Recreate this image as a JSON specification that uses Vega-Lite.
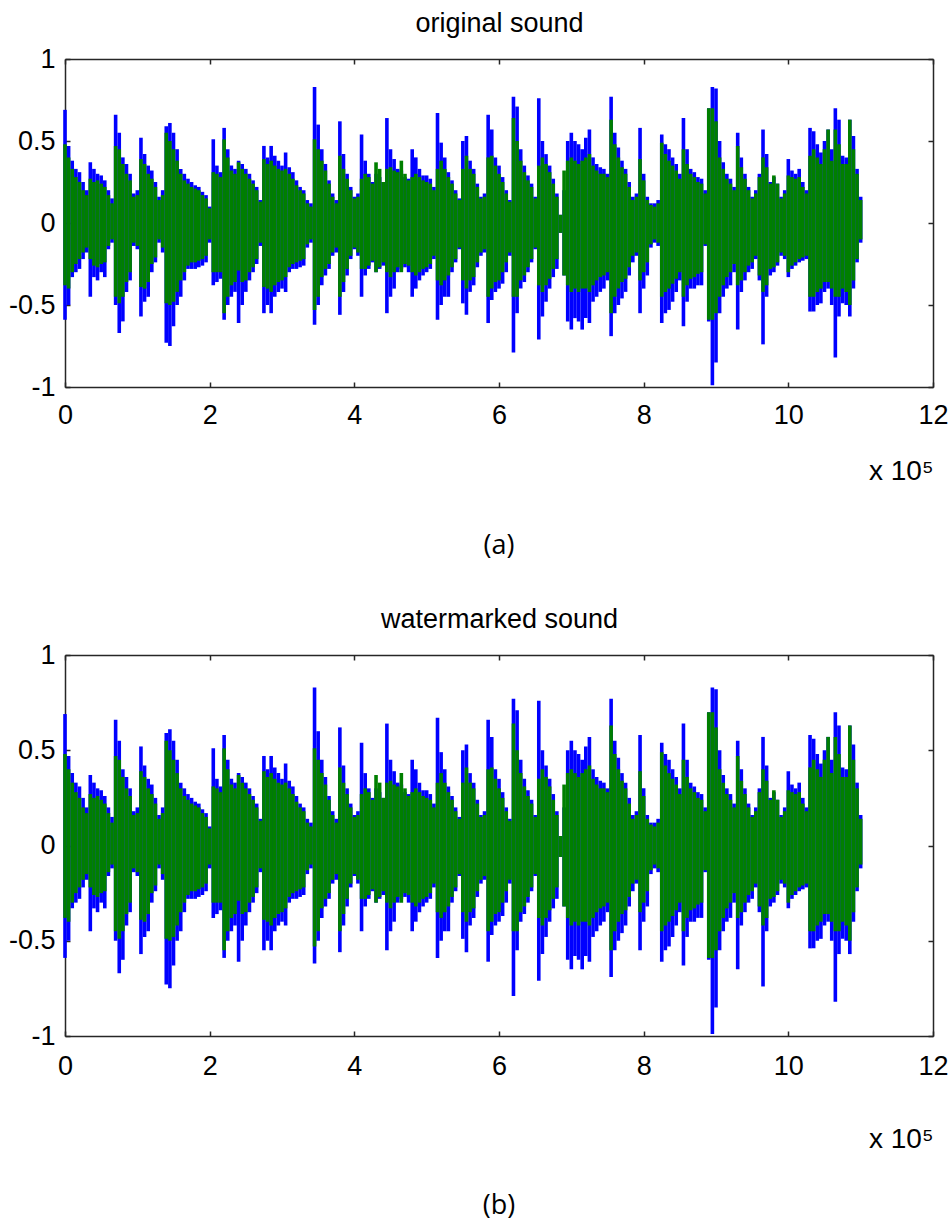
{
"$schema": "https://vega.github.io/schema/vega-lite/v6.json",
"background": "white",
"padding": {"left": 8, "top": 9, "right": 0, "bottom": 8},
"spacing": 46,
"config": {
  "view": {"stroke": null},
  "axis": {"grid": false, "domainColor": "#262626", "domainWidth": 1.5, "tickColor": "#262626", "tickWidth": 1.5, "labelFont": "Liberation Sans", "labelFontSize": 27, "labelColor": "black", "titleFont": "Liberation Sans", "titleFontWeight": "normal", "titleColor": "black", "labelFlush": false, "labelOverlap": false},
  "title": {"font": "Open Sans", "fontSize": 27, "fontWeight": "normal", "color": "black"}
},
"datasets": {"w": [
{"x":0.00,"bh":0.69,"bl":-0.59,"gh":0.48,"gl":-0.38},
{"x":0.05,"bh":0.47,"bl":-0.50,"gh":0.40,"gl":-0.40},
{"x":0.10,"bh":0.38,"bl":-0.33,"gh":0.33,"gl":-0.30},
{"x":0.15,"bh":0.33,"bl":-0.30,"gh":0.28,"gl":-0.25},
{"x":0.20,"bh":0.31,"bl":-0.28,"gh":0.25,"gl":-0.22},
{"x":0.25,"bh":0.25,"bl":-0.22,"gh":0.20,"gl":-0.18},
{"x":0.30,"bh":0.20,"bl":-0.18,"gh":0.17,"gl":-0.15},
{"x":0.35,"bh":0.37,"bl":-0.45,"gh":0.27,"gl":-0.22},
{"x":0.40,"bh":0.33,"bl":-0.33,"gh":0.25,"gl":-0.26},
{"x":0.45,"bh":0.30,"bl":-0.35,"gh":0.26,"gl":-0.27},
{"x":0.50,"bh":0.29,"bl":-0.30,"gh":0.24,"gl":-0.25},
{"x":0.55,"bh":0.26,"bl":-0.33,"gh":0.22,"gl":-0.24},
{"x":0.60,"bh":0.20,"bl":-0.16,"gh":0.17,"gl":-0.14},
{"x":0.65,"bh":0.15,"bl":-0.12,"gh":0.12,"gl":-0.10},
{"x":0.70,"bh":0.66,"bl":-0.50,"gh":0.47,"gl":-0.45},
{"x":0.75,"bh":0.55,"bl":-0.67,"gh":0.45,"gl":-0.49},
{"x":0.80,"bh":0.40,"bl":-0.60,"gh":0.36,"gl":-0.45},
{"x":0.85,"bh":0.36,"bl":-0.42,"gh":0.30,"gl":-0.36},
{"x":0.90,"bh":0.30,"bl":-0.35,"gh":0.26,"gl":-0.30},
{"x":0.95,"bh":0.18,"bl":-0.14,"gh":0.16,"gl":-0.12},
{"x":1.00,"bh":0.20,"bl":-0.16,"gh":0.17,"gl":-0.14},
{"x":1.05,"bh":0.52,"bl":-0.57,"gh":0.39,"gl":-0.39},
{"x":1.10,"bh":0.42,"bl":-0.48,"gh":0.36,"gl":-0.40},
{"x":1.15,"bh":0.35,"bl":-0.45,"gh":0.30,"gl":-0.36},
{"x":1.20,"bh":0.32,"bl":-0.30,"gh":0.27,"gl":-0.25},
{"x":1.25,"bh":0.25,"bl":-0.24,"gh":0.22,"gl":-0.21},
{"x":1.30,"bh":0.16,"bl":-0.12,"gh":0.14,"gl":-0.10},
{"x":1.35,"bh":0.20,"bl":-0.18,"gh":0.17,"gl":-0.15},
{"x":1.40,"bh":0.59,"bl":-0.73,"gh":0.55,"gl":-0.49},
{"x":1.45,"bh":0.61,"bl":-0.75,"gh":0.50,"gl":-0.50},
{"x":1.50,"bh":0.55,"bl":-0.63,"gh":0.45,"gl":-0.48},
{"x":1.55,"bh":0.45,"bl":-0.50,"gh":0.38,"gl":-0.42},
{"x":1.60,"bh":0.33,"bl":-0.45,"gh":0.30,"gl":-0.35},
{"x":1.65,"bh":0.30,"bl":-0.35,"gh":0.26,"gl":-0.30},
{"x":1.70,"bh":0.27,"bl":-0.28,"gh":0.24,"gl":-0.26},
{"x":1.75,"bh":0.25,"bl":-0.28,"gh":0.22,"gl":-0.24},
{"x":1.80,"bh":0.23,"bl":-0.28,"gh":0.21,"gl":-0.24},
{"x":1.85,"bh":0.22,"bl":-0.27,"gh":0.20,"gl":-0.23},
{"x":1.90,"bh":0.19,"bl":-0.26,"gh":0.17,"gl":-0.22},
{"x":1.95,"bh":0.17,"bl":-0.24,"gh":0.15,"gl":-0.20},
{"x":2.00,"bh":0.10,"bl":-0.12,"gh":0.09,"gl":-0.10},
{"x":2.05,"bh":0.51,"bl":-0.38,"gh":0.31,"gl":-0.30},
{"x":2.10,"bh":0.35,"bl":-0.36,"gh":0.30,"gl":-0.30},
{"x":2.15,"bh":0.31,"bl":-0.34,"gh":0.28,"gl":-0.30},
{"x":2.20,"bh":0.58,"bl":-0.59,"gh":0.51,"gl":-0.55},
{"x":2.25,"bh":0.45,"bl":-0.50,"gh":0.40,"gl":-0.45},
{"x":2.30,"bh":0.35,"bl":-0.45,"gh":0.32,"gl":-0.38},
{"x":2.35,"bh":0.33,"bl":-0.42,"gh":0.30,"gl":-0.36},
{"x":2.40,"bh":0.38,"bl":-0.61,"gh":0.37,"gl":-0.29},
{"x":2.45,"bh":0.36,"bl":-0.50,"gh":0.33,"gl":-0.36},
{"x":2.50,"bh":0.33,"bl":-0.42,"gh":0.30,"gl":-0.35},
{"x":2.55,"bh":0.30,"bl":-0.35,"gh":0.27,"gl":-0.30},
{"x":2.60,"bh":0.26,"bl":-0.30,"gh":0.24,"gl":-0.27},
{"x":2.65,"bh":0.22,"bl":-0.25,"gh":0.20,"gl":-0.22},
{"x":2.70,"bh":0.14,"bl":-0.14,"gh":0.13,"gl":-0.12},
{"x":2.75,"bh":0.47,"bl":-0.55,"gh":0.39,"gl":-0.39},
{"x":2.80,"bh":0.40,"bl":-0.50,"gh":0.36,"gl":-0.40},
{"x":2.85,"bh":0.47,"bl":-0.55,"gh":0.38,"gl":-0.42},
{"x":2.90,"bh":0.41,"bl":-0.45,"gh":0.35,"gl":-0.38},
{"x":2.95,"bh":0.38,"bl":-0.42,"gh":0.33,"gl":-0.36},
{"x":3.00,"bh":0.35,"bl":-0.40,"gh":0.32,"gl":-0.35},
{"x":3.05,"bh":0.43,"bl":-0.42,"gh":0.33,"gl":-0.33},
{"x":3.10,"bh":0.34,"bl":-0.30,"gh":0.30,"gl":-0.27},
{"x":3.15,"bh":0.31,"bl":-0.28,"gh":0.27,"gl":-0.25},
{"x":3.20,"bh":0.26,"bl":-0.28,"gh":0.23,"gl":-0.24},
{"x":3.25,"bh":0.22,"bl":-0.27,"gh":0.20,"gl":-0.23},
{"x":3.30,"bh":0.20,"bl":-0.26,"gh":0.18,"gl":-0.22},
{"x":3.35,"bh":0.14,"bl":-0.15,"gh":0.12,"gl":-0.13},
{"x":3.40,"bh":0.12,"bl":-0.12,"gh":0.10,"gl":-0.10},
{"x":3.45,"bh":0.83,"bl":-0.62,"gh":0.51,"gl":-0.53},
{"x":3.50,"bh":0.60,"bl":-0.50,"gh":0.45,"gl":-0.45},
{"x":3.55,"bh":0.45,"bl":-0.38,"gh":0.38,"gl":-0.33},
{"x":3.60,"bh":0.36,"bl":-0.32,"gh":0.32,"gl":-0.28},
{"x":3.65,"bh":0.26,"bl":-0.28,"gh":0.24,"gl":-0.25},
{"x":3.70,"bh":0.18,"bl":-0.20,"gh":0.16,"gl":-0.18},
{"x":3.75,"bh":0.14,"bl":-0.18,"gh":0.12,"gl":-0.15},
{"x":3.80,"bh":0.62,"bl":-0.56,"gh":0.41,"gl":-0.45},
{"x":3.85,"bh":0.42,"bl":-0.42,"gh":0.33,"gl":-0.36},
{"x":3.90,"bh":0.30,"bl":-0.32,"gh":0.27,"gl":-0.28},
{"x":3.95,"bh":0.22,"bl":-0.22,"gh":0.20,"gl":-0.20},
{"x":4.00,"bh":0.16,"bl":-0.16,"gh":0.15,"gl":-0.15},
{"x":4.05,"bh":0.18,"bl":-0.20,"gh":0.16,"gl":-0.18},
{"x":4.10,"bh":0.54,"bl":-0.45,"gh":0.27,"gl":-0.28},
{"x":4.15,"bh":0.38,"bl":-0.32,"gh":0.30,"gl":-0.28},
{"x":4.20,"bh":0.30,"bl":-0.28,"gh":0.28,"gl":-0.26},
{"x":4.25,"bh":0.25,"bl":-0.24,"gh":0.24,"gl":-0.23},
{"x":4.30,"bh":0.30,"bl":-0.30,"gh":0.37,"gl":-0.30},
{"x":4.35,"bh":0.28,"bl":-0.28,"gh":0.33,"gl":-0.27},
{"x":4.40,"bh":0.25,"bl":-0.26,"gh":0.25,"gl":-0.24},
{"x":4.45,"bh":0.64,"bl":-0.55,"gh":0.33,"gl":-0.30},
{"x":4.50,"bh":0.45,"bl":-0.45,"gh":0.34,"gl":-0.33},
{"x":4.55,"bh":0.39,"bl":-0.40,"gh":0.32,"gl":-0.30},
{"x":4.60,"bh":0.33,"bl":-0.30,"gh":0.31,"gl":-0.27},
{"x":4.65,"bh":0.32,"bl":-0.28,"gh":0.38,"gl":-0.30},
{"x":4.70,"bh":0.28,"bl":-0.27,"gh":0.30,"gl":-0.25},
{"x":4.75,"bh":0.27,"bl":-0.30,"gh":0.26,"gl":-0.26},
{"x":4.80,"bh":0.45,"bl":-0.45,"gh":0.28,"gl":-0.30},
{"x":4.85,"bh":0.40,"bl":-0.40,"gh":0.30,"gl":-0.32},
{"x":4.90,"bh":0.33,"bl":-0.35,"gh":0.28,"gl":-0.30},
{"x":4.95,"bh":0.29,"bl":-0.32,"gh":0.26,"gl":-0.28},
{"x":5.00,"bh":0.29,"bl":-0.30,"gh":0.25,"gl":-0.27},
{"x":5.05,"bh":0.27,"bl":-0.28,"gh":0.24,"gl":-0.25},
{"x":5.10,"bh":0.22,"bl":-0.22,"gh":0.20,"gl":-0.20},
{"x":5.15,"bh":0.67,"bl":-0.59,"gh":0.33,"gl":-0.35},
{"x":5.20,"bh":0.49,"bl":-0.50,"gh":0.38,"gl":-0.38},
{"x":5.25,"bh":0.40,"bl":-0.45,"gh":0.33,"gl":-0.35},
{"x":5.30,"bh":0.31,"bl":-0.45,"gh":0.28,"gl":-0.32},
{"x":5.35,"bh":0.26,"bl":-0.30,"gh":0.24,"gl":-0.27},
{"x":5.40,"bh":0.20,"bl":-0.24,"gh":0.18,"gl":-0.22},
{"x":5.45,"bh":0.15,"bl":-0.16,"gh":0.14,"gl":-0.15},
{"x":5.50,"bh":0.50,"bl":-0.49,"gh":0.33,"gl":-0.35},
{"x":5.55,"bh":0.53,"bl":-0.56,"gh":0.41,"gl":-0.40},
{"x":5.60,"bh":0.38,"bl":-0.42,"gh":0.33,"gl":-0.35},
{"x":5.65,"bh":0.33,"bl":-0.38,"gh":0.30,"gl":-0.33},
{"x":5.70,"bh":0.24,"bl":-0.27,"gh":0.22,"gl":-0.24},
{"x":5.75,"bh":0.16,"bl":-0.20,"gh":0.15,"gl":-0.18},
{"x":5.80,"bh":0.18,"bl":-0.18,"gh":0.16,"gl":-0.16},
{"x":5.85,"bh":0.66,"bl":-0.61,"gh":0.40,"gl":-0.45},
{"x":5.90,"bh":0.57,"bl":-0.47,"gh":0.41,"gl":-0.40},
{"x":5.95,"bh":0.40,"bl":-0.42,"gh":0.35,"gl":-0.36},
{"x":6.00,"bh":0.35,"bl":-0.40,"gh":0.30,"gl":-0.35},
{"x":6.05,"bh":0.28,"bl":-0.37,"gh":0.25,"gl":-0.30},
{"x":6.10,"bh":0.20,"bl":-0.30,"gh":0.18,"gl":-0.24},
{"x":6.15,"bh":0.14,"bl":-0.20,"gh":0.13,"gl":-0.18},
{"x":6.20,"bh":0.77,"bl":-0.79,"gh":0.64,"gl":-0.45},
{"x":6.25,"bh":0.71,"bl":-0.55,"gh":0.50,"gl":-0.45},
{"x":6.30,"bh":0.45,"bl":-0.40,"gh":0.38,"gl":-0.35},
{"x":6.35,"bh":0.35,"bl":-0.36,"gh":0.31,"gl":-0.32},
{"x":6.40,"bh":0.29,"bl":-0.30,"gh":0.26,"gl":-0.27},
{"x":6.45,"bh":0.24,"bl":-0.24,"gh":0.22,"gl":-0.22},
{"x":6.50,"bh":0.16,"bl":-0.16,"gh":0.15,"gl":-0.15},
{"x":6.55,"bh":0.76,"bl":-0.71,"gh":0.35,"gl":-0.38},
{"x":6.60,"bh":0.50,"bl":-0.57,"gh":0.40,"gl":-0.42},
{"x":6.65,"bh":0.42,"bl":-0.48,"gh":0.36,"gl":-0.38},
{"x":6.70,"bh":0.35,"bl":-0.40,"gh":0.31,"gl":-0.34},
{"x":6.75,"bh":0.27,"bl":-0.33,"gh":0.24,"gl":-0.28},
{"x":6.80,"bh":0.18,"bl":-0.28,"gh":0.16,"gl":-0.22},
{"x":6.85,"bh":0.05,"bl":-0.06,"gh":0.05,"gl":-0.06},
{"x":6.90,"bh":0.20,"bl":-0.32,"gh":0.32,"gl":-0.32},
{"x":6.95,"bh":0.50,"bl":-0.60,"gh":0.38,"gl":-0.38},
{"x":7.00,"bh":0.55,"bl":-0.65,"gh":0.40,"gl":-0.42},
{"x":7.05,"bh":0.50,"bl":-0.58,"gh":0.38,"gl":-0.40},
{"x":7.10,"bh":0.48,"bl":-0.60,"gh":0.36,"gl":-0.42},
{"x":7.15,"bh":0.45,"bl":-0.65,"gh":0.38,"gl":-0.40},
{"x":7.20,"bh":0.52,"bl":-0.58,"gh":0.40,"gl":-0.40},
{"x":7.25,"bh":0.57,"bl":-0.61,"gh":0.42,"gl":-0.42},
{"x":7.30,"bh":0.40,"bl":-0.48,"gh":0.35,"gl":-0.38},
{"x":7.35,"bh":0.36,"bl":-0.45,"gh":0.32,"gl":-0.35},
{"x":7.40,"bh":0.34,"bl":-0.42,"gh":0.30,"gl":-0.33},
{"x":7.45,"bh":0.33,"bl":-0.40,"gh":0.30,"gl":-0.32},
{"x":7.50,"bh":0.30,"bl":-0.35,"gh":0.28,"gl":-0.30},
{"x":7.55,"bh":0.77,"bl":-0.69,"gh":0.63,"gl":-0.55},
{"x":7.60,"bh":0.55,"bl":-0.55,"gh":0.48,"gl":-0.45},
{"x":7.65,"bh":0.46,"bl":-0.50,"gh":0.40,"gl":-0.40},
{"x":7.70,"bh":0.38,"bl":-0.46,"gh":0.34,"gl":-0.36},
{"x":7.75,"bh":0.33,"bl":-0.42,"gh":0.30,"gl":-0.34},
{"x":7.80,"bh":0.25,"bl":-0.32,"gh":0.22,"gl":-0.27},
{"x":7.85,"bh":0.16,"bl":-0.24,"gh":0.14,"gl":-0.20},
{"x":7.90,"bh":0.18,"bl":-0.20,"gh":0.16,"gl":-0.18},
{"x":7.95,"bh":0.58,"bl":-0.55,"gh":0.39,"gl":-0.35},
{"x":8.00,"bh":0.30,"bl":-0.40,"gh":0.26,"gl":-0.30},
{"x":8.05,"bh":0.16,"bl":-0.32,"gh":0.14,"gl":-0.24},
{"x":8.10,"bh":0.12,"bl":-0.15,"gh":0.11,"gl":-0.13},
{"x":8.15,"bh":0.12,"bl":-0.12,"gh":0.10,"gl":-0.10},
{"x":8.20,"bh":0.14,"bl":-0.14,"gh":0.12,"gl":-0.12},
{"x":8.25,"bh":0.54,"bl":-0.61,"gh":0.49,"gl":-0.45},
{"x":8.30,"bh":0.48,"bl":-0.55,"gh":0.42,"gl":-0.42},
{"x":8.35,"bh":0.45,"bl":-0.53,"gh":0.38,"gl":-0.40},
{"x":8.40,"bh":0.40,"bl":-0.48,"gh":0.35,"gl":-0.37},
{"x":8.45,"bh":0.36,"bl":-0.42,"gh":0.32,"gl":-0.34},
{"x":8.50,"bh":0.30,"bl":-0.35,"gh":0.27,"gl":-0.30},
{"x":8.55,"bh":0.64,"bl":-0.63,"gh":0.45,"gl":-0.45},
{"x":8.60,"bh":0.45,"bl":-0.48,"gh":0.36,"gl":-0.38},
{"x":8.65,"bh":0.33,"bl":-0.40,"gh":0.30,"gl":-0.34},
{"x":8.70,"bh":0.31,"bl":-0.40,"gh":0.28,"gl":-0.33},
{"x":8.75,"bh":0.28,"bl":-0.38,"gh":0.25,"gl":-0.31},
{"x":8.80,"bh":0.27,"bl":-0.38,"gh":0.24,"gl":-0.30},
{"x":8.85,"bh":0.20,"bl":-0.14,"gh":0.18,"gl":-0.13},
{"x":8.90,"bh":0.70,"bl":-0.60,"gh":0.70,"gl":-0.59},
{"x":8.95,"bh":0.83,"bl":-0.99,"gh":0.70,"gl":-0.59},
{"x":9.00,"bh":0.82,"bl":-0.85,"gh":0.62,"gl":-0.55},
{"x":9.05,"bh":0.50,"bl":-0.55,"gh":0.40,"gl":-0.45},
{"x":9.10,"bh":0.37,"bl":-0.45,"gh":0.33,"gl":-0.38},
{"x":9.15,"bh":0.30,"bl":-0.40,"gh":0.27,"gl":-0.33},
{"x":9.20,"bh":0.27,"bl":-0.38,"gh":0.24,"gl":-0.30},
{"x":9.25,"bh":0.22,"bl":-0.30,"gh":0.20,"gl":-0.25},
{"x":9.30,"bh":0.55,"bl":-0.65,"gh":0.47,"gl":-0.38},
{"x":9.35,"bh":0.40,"bl":-0.42,"gh":0.34,"gl":-0.35},
{"x":9.40,"bh":0.30,"bl":-0.35,"gh":0.27,"gl":-0.30},
{"x":9.45,"bh":0.22,"bl":-0.30,"gh":0.20,"gl":-0.26},
{"x":9.50,"bh":0.16,"bl":-0.28,"gh":0.15,"gl":-0.24},
{"x":9.55,"bh":0.20,"bl":-0.22,"gh":0.18,"gl":-0.20},
{"x":9.60,"bh":0.30,"bl":-0.35,"gh":0.28,"gl":-0.32},
{"x":9.65,"bh":0.57,"bl":-0.74,"gh":0.40,"gl":-0.42},
{"x":9.70,"bh":0.42,"bl":-0.45,"gh":0.34,"gl":-0.38},
{"x":9.75,"bh":0.25,"bl":-0.32,"gh":0.24,"gl":-0.28},
{"x":9.80,"bh":0.28,"bl":-0.30,"gh":0.29,"gl":-0.27},
{"x":9.85,"bh":0.24,"bl":-0.26,"gh":0.24,"gl":-0.24},
{"x":9.90,"bh":0.16,"bl":-0.20,"gh":0.15,"gl":-0.18},
{"x":9.95,"bh":0.20,"bl":-0.22,"gh":0.18,"gl":-0.20},
{"x":10.00,"bh":0.39,"bl":-0.33,"gh":0.29,"gl":-0.30},
{"x":10.05,"bh":0.32,"bl":-0.28,"gh":0.28,"gl":-0.26},
{"x":10.10,"bh":0.30,"bl":-0.26,"gh":0.27,"gl":-0.24},
{"x":10.15,"bh":0.33,"bl":-0.24,"gh":0.28,"gl":-0.22},
{"x":10.20,"bh":0.25,"bl":-0.23,"gh":0.22,"gl":-0.21},
{"x":10.25,"bh":0.20,"bl":-0.22,"gh":0.18,"gl":-0.20},
{"x":10.30,"bh":0.58,"bl":-0.54,"gh":0.41,"gl":-0.45},
{"x":10.35,"bh":0.56,"bl":-0.54,"gh":0.45,"gl":-0.45},
{"x":10.40,"bh":0.48,"bl":-0.50,"gh":0.40,"gl":-0.42},
{"x":10.45,"bh":0.43,"bl":-0.49,"gh":0.36,"gl":-0.40},
{"x":10.50,"bh":0.50,"bl":-0.42,"gh":0.45,"gl":-0.36},
{"x":10.55,"bh":0.57,"bl":-0.40,"gh":0.57,"gl":-0.36},
{"x":10.60,"bh":0.45,"bl":-0.50,"gh":0.38,"gl":-0.40},
{"x":10.65,"bh":0.70,"bl":-0.82,"gh":0.57,"gl":-0.45},
{"x":10.70,"bh":0.63,"bl":-0.57,"gh":0.48,"gl":-0.45},
{"x":10.75,"bh":0.41,"bl":-0.49,"gh":0.36,"gl":-0.40},
{"x":10.80,"bh":0.40,"bl":-0.50,"gh":0.36,"gl":-0.42},
{"x":10.85,"bh":0.63,"bl":-0.57,"gh":0.63,"gl":-0.50},
{"x":10.90,"bh":0.53,"bl":-0.40,"gh":0.45,"gl":-0.35},
{"x":10.95,"bh":0.33,"bl":-0.24,"gh":0.30,"gl":-0.22},
{"x":11.00,"bh":0.16,"bl":-0.12,"gh":0.14,"gl":-0.10}
]},
"vconcat": [
{
  "width": 868, "height": 328,
  "title": {"text": "(a)", "orient": "bottom", "offset": 48, "anchor": "middle"},
  "data": {"name": "w"},
  "layer": [
    {"mark": {"type": "rule", "strokeWidth": 3.6, "color": "#0000ff"},
     "encoding": {
       "x": {"field": "x", "type": "quantitative", "scale": {"domain": [0, 12], "nice": false, "zero": false},
             "axis": {"orient": "bottom", "values": [0, 2, 4, 6, 8, 10, 12], "tickSize": -5, "labelPadding": 20, "title": "x 10⁵", "titleAnchor": "end", "titleAlign": "right", "titleFontSize": 28, "titlePadding": 29}},
       "y": {"field": "bh", "type": "quantitative", "scale": {"domain": [-1, 1], "nice": false, "zero": false},
             "axis": {"orient": "left", "values": [-1, -0.5, 0, 0.5, 1], "tickSize": -5, "labelPadding": 15, "title": null, "labelExpr": "'' + datum.value"}},
       "y2": {"field": "bl"}
     }},
    {"mark": {"type": "rule", "strokeWidth": 3.6, "color": "#007f00"},
     "encoding": {
       "x": {"field": "x", "type": "quantitative", "scale": {"domain": [0, 12], "nice": false, "zero": false},
             "axis": {"orient": "top", "values": [0, 2, 4, 6, 8, 10, 12], "tickSize": -5, "labels": false, "title": "original sound", "titleFontSize": 27, "titlePadding": 21}},
       "y": {"field": "gh", "type": "quantitative", "scale": {"domain": [-1, 1], "nice": false, "zero": false},
             "axis": {"orient": "right", "values": [-1, -0.5, 0, 0.5, 1], "tickSize": -5, "labels": false, "title": null}},
       "y2": {"field": "gl"}
     }}
  ],
  "resolve": {"axis": {"x": "independent", "y": "independent"}}
},
{
  "width": 868, "height": 381,
  "title": {"text": "(b)", "orient": "bottom", "offset": 40, "anchor": "middle"},
  "data": {"name": "w"},
  "layer": [
    {"mark": {"type": "rule", "strokeWidth": 3.6, "color": "#0000ff"},
     "encoding": {
       "x": {"field": "x", "type": "quantitative", "scale": {"domain": [0, 12], "nice": false, "zero": false},
             "axis": {"orient": "bottom", "values": [0, 2, 4, 6, 8, 10, 12], "tickSize": -5, "labelPadding": 22, "title": "x 10⁵", "titleAnchor": "end", "titleAlign": "right", "titleFontSize": 28, "titlePadding": 46}},
       "y": {"field": "bh", "type": "quantitative", "scale": {"domain": [-1, 1], "nice": false, "zero": false},
             "axis": {"orient": "left", "values": [-1, -0.5, 0, 0.5, 1], "tickSize": -5, "labelPadding": 15, "title": null, "labelExpr": "'' + datum.value"}},
       "y2": {"field": "bl"}
     }},
    {"mark": {"type": "rule", "strokeWidth": 3.6, "color": "#007f00"},
     "encoding": {
       "x": {"field": "x", "type": "quantitative", "scale": {"domain": [0, 12], "nice": false, "zero": false},
             "axis": {"orient": "top", "values": [0, 2, 4, 6, 8, 10, 12], "tickSize": -5, "labels": false, "title": "watermarked sound", "titleFontSize": 27, "titlePadding": 21}},
       "y": {"field": "gh", "type": "quantitative", "scale": {"domain": [-1, 1], "nice": false, "zero": false},
             "axis": {"orient": "right", "values": [-1, -0.5, 0, 0.5, 1], "tickSize": -5, "labels": false, "title": null}},
       "y2": {"field": "gl"}
     }}
  ],
  "resolve": {"axis": {"x": "independent", "y": "independent"}}
}
]
}
